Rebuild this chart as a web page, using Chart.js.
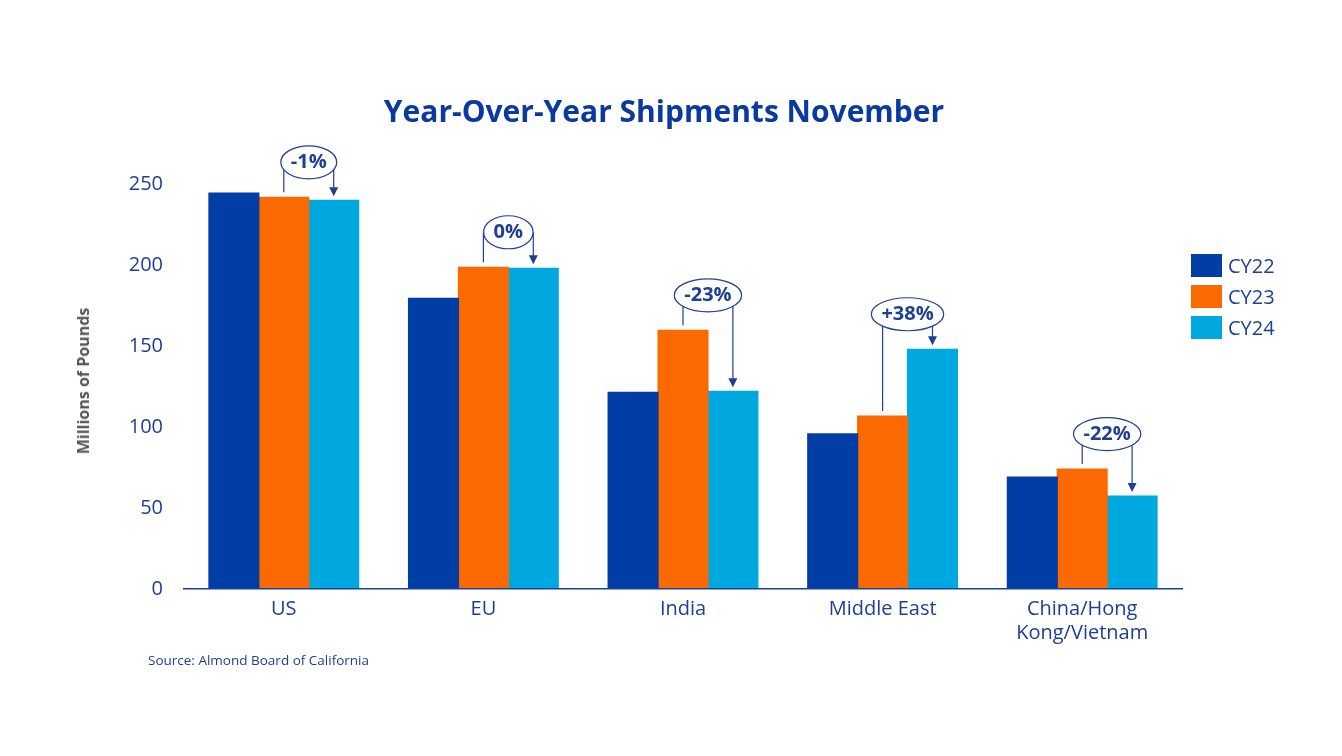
<!DOCTYPE html>
<html>
<head>
<meta charset="utf-8">
<script src="https://cdn.jsdelivr.net/npm/chart.js"></script>
<style>
    body { margin: 0; background: #fff; }
    #wrap { position: relative; width: 1342px; height: 756px; font-family: 'Open Sans', sans-serif; }
    #chart { position: absolute; left: 0; top: 0; }
    .title { position: absolute; left: 0; width: 1328px; top: 92px; text-align: center;
             font-weight: bold; font-size: 30px; line-height: 38px; color: #0a3a9f; }
    .ytitle { position: absolute; left: 83px; top: 381px; transform: translate(-50%, -50%) rotate(-90deg);
              white-space: nowrap; font-weight: bold; font-size: 16px; color: #555; }
    .legend-item { position: absolute; left: 1191px; height: 23px; }
    .legend-item .box { position: absolute; left: 0; top: 0; width: 31px; height: 23px; }
    .legend-item .txt { position: absolute; left: 37px; top: -1px; font-size: 20px; line-height: 25px; color: #1d3f94; }
    .source { position: absolute; left: 148px; top: 651px; font-size: 13.5px; color: #1d3f94; }
</style>
</head>
<body>
<div id="wrap">
    <canvas id="chart" width="1342" height="756"></canvas>
    <div class="title">Year-Over-Year Shipments November</div>
    <div class="ytitle">Millions of Pounds</div>
    <div id="legend"></div>
    <div class="source">Source: Almond Board of California</div>
</div>
<script>
// Данные графика
const categories = ["US", "EU", "India", "Middle East", ["China/Hong", "Kong/Vietnam"]];
const seriesNames = ["CY22", "CY23", "CY24"];
const cy22 = [244.4, 179.4, 121.4, 95.7, 69.1];
const cy23 = [241.8, 198.6, 159.7, 106.8, 74.0];
const cy24 = [239.9, 198.0, 122.0, 148.0, 57.4];
const changes = ["-1%", "0%", "-23%", "+38%", "-22%"];
const yTicks = [0, 50, 100, 150, 200, 250];

const colors = ["#003da5", "#fa6a00", "#00a8e0"];
const navy = "#1d3f94";

// Легенда (HTML)
const legend = document.getElementById("legend");
seriesNames.forEach((name, i) => {
    const item = document.createElement("div");
    item.className = "legend-item";
    item.style.top = (254 + i * 31) + "px";
    item.innerHTML = `<div class="box" style="background:${colors[i]}"></div><div class="txt">${name}</div>`;
    legend.appendChild(item);
});

// Плашки с процентами и стрелками CY23 -> CY24
const changePlugin = {
    id: "changeMarks",
    afterDatasetsDraw(chart) {
        const ctx = chart.ctx;
        const m23 = chart.getDatasetMeta(1).data;
        const m24 = chart.getDatasetMeta(2).data;
        ctx.save();
        ctx.font = "bold 20px 'Open Sans', sans-serif";
        changes.forEach((label, i) => {
            const a = m23[i], b = m24[i];
            const cx = (a.x + b.x) / 2;
            const cy = Math.min(a.y, b.y) - 35;
            const w = ctx.measureText(label).width + 20;
            const h = 33;

            ctx.strokeStyle = navy;
            ctx.fillStyle = navy;
            ctx.lineWidth = 1.2;
            // левая линия
            ctx.beginPath();
            ctx.moveTo(a.x, a.y - 5);
            ctx.lineTo(a.x, cy);
            ctx.stroke();
            // правая линия со стрелкой
            const tip = b.y - 4;
            ctx.beginPath();
            ctx.moveTo(b.x, cy);
            ctx.lineTo(b.x, tip - 8);
            ctx.stroke();
            ctx.beginPath();
            ctx.moveTo(b.x - 4.5, tip - 9);
            ctx.lineTo(b.x + 4.5, tip - 9);
            ctx.lineTo(b.x, tip);
            ctx.closePath();
            ctx.fill();

            // эллипс
            ctx.beginPath();
            ctx.ellipse(cx, cy, w / 2, h / 2, 0, 0, Math.PI * 2);
            ctx.fillStyle = "#fff";
            ctx.fill();
            ctx.stroke();

            ctx.fillStyle = navy;
            ctx.textAlign = "center";
            ctx.textBaseline = "middle";
            ctx.fillText(label, cx, cy);
        });
        ctx.restore();
    }
};

new Chart(document.getElementById("chart"), {
    type: "bar",
    data: {
        labels: categories,
        datasets: [cy22, cy23, cy24].map((d, i) => ({
            label: seriesNames[i],
            data: d,
            backgroundColor: colors[i],
            borderWidth: 0,
            inflateAmount: 0.6,
            categoryPercentage: 0.75,
            barPercentage: 1.0
        }))
    },
    options: {
        responsive: false,
        animation: false,
        layout: { padding: { top: 184, right: 160, bottom: 0, left: 0 } },
        plugins: {
            legend: { display: false },
            tooltip: { enabled: false }
        },
        scales: {
            x: {
                grid: { display: false, drawTicks: false },
                border: { display: true, color: navy, width: 1.5, z: 1 },
                ticks: {
                    color: navy,
                    padding: 8,
                    font: { family: "'Open Sans', sans-serif", size: 20, lineHeight: 1.2 }
                },
                afterFit: s => { s.height = 167; }
            },
            y: {
                min: 0,
                max: 250,
                grid: { display: false, drawTicks: false },
                border: { display: false },
                afterBuildTicks: s => { s.ticks = yTicks.map(v => ({ value: v })); },
                ticks: {
                    color: navy,
                    padding: 21,
                    font: { family: "'Open Sans', sans-serif", size: 20 }
                },
                afterFit: s => { s.width = 184; }
            }
        }
    },
    plugins: [changePlugin]
});
</script>
</body>
</html>
